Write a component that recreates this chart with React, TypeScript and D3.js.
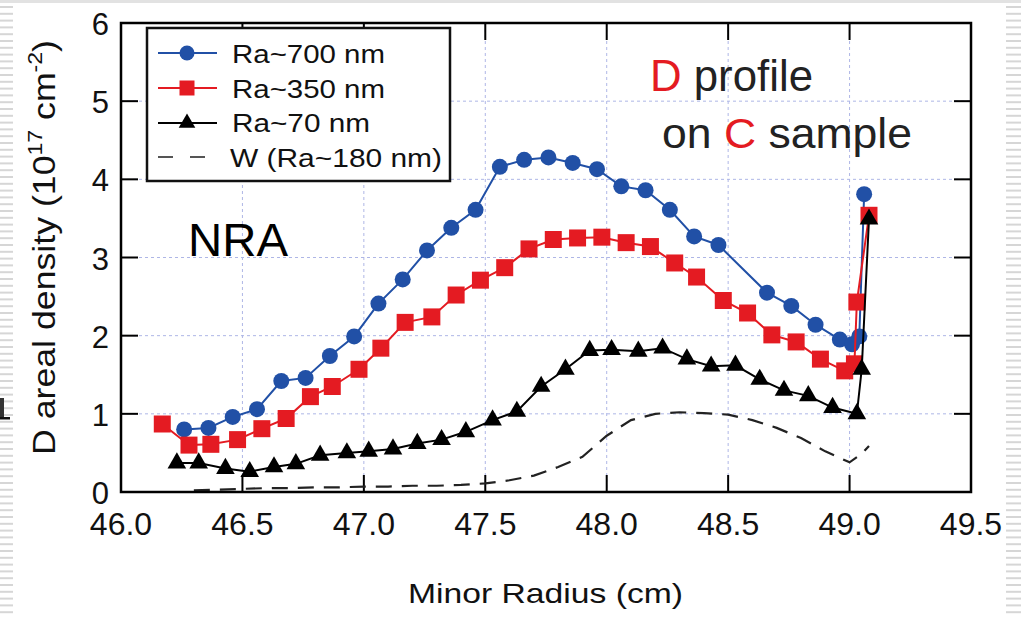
import React from "react";
import * as d3 from "d3";

// ---- Data ----
const xTicks = [46.0, 46.5, 47.0, 47.5, 48.0, 48.5, 49.0, 49.5];
const yTicks = [0, 1, 2, 3, 4, 5, 6];

const ra700X = [46.26, 46.36, 46.46, 46.56, 46.66, 46.76, 46.86, 46.96, 47.06, 47.16, 47.26, 47.36, 47.46, 47.56, 47.66, 47.76, 47.86, 47.96, 48.06, 48.16, 48.26, 48.36, 48.46, 48.66, 48.76, 48.86, 48.96, 49.01, 49.04, 49.06];
const ra700Y = [0.80, 0.82, 0.96, 1.06, 1.42, 1.46, 1.74, 1.99, 2.41, 2.72, 3.09, 3.38, 3.61, 4.16, 4.25, 4.28, 4.21, 4.13, 3.91, 3.86, 3.61, 3.27, 3.16, 2.55, 2.38, 2.14, 1.95, 1.89, 1.99, 3.81];

const ra350X = [46.17, 46.28, 46.37, 46.48, 46.58, 46.68, 46.78, 46.87, 46.98, 47.07, 47.17, 47.28, 47.38, 47.48, 47.58, 47.68, 47.78, 47.88, 47.98, 48.08, 48.18, 48.28, 48.37, 48.48, 48.58, 48.68, 48.78, 48.88, 48.98, 49.02, 49.03, 49.08];
const ra350Y = [0.87, 0.60, 0.61, 0.67, 0.81, 0.94, 1.22, 1.35, 1.57, 1.84, 2.17, 2.24, 2.52, 2.71, 2.87, 3.11, 3.23, 3.25, 3.26, 3.19, 3.14, 2.93, 2.75, 2.45, 2.29, 2.01, 1.92, 1.70, 1.55, 1.64, 2.43, 3.54];

const ra70X = [46.23, 46.32, 46.43, 46.53, 46.63, 46.72, 46.82, 46.93, 47.02, 47.12, 47.22, 47.32, 47.42, 47.53, 47.63, 47.73, 47.83, 47.93, 48.02, 48.13, 48.23, 48.33, 48.43, 48.53, 48.63, 48.73, 48.83, 48.93, 49.03, 49.05, 49.08];
const ra70Y = [0.37, 0.37, 0.30, 0.26, 0.32, 0.36, 0.47, 0.50, 0.52, 0.55, 0.62, 0.67, 0.77, 0.92, 1.03, 1.35, 1.57, 1.81, 1.82, 1.80, 1.84, 1.70, 1.61, 1.62, 1.44, 1.30, 1.23, 1.08, 1.00, 1.57, 3.49];

const wX = [46.3, 46.4, 46.5, 46.6, 46.7, 46.8, 46.9, 47.0, 47.1, 47.2, 47.3, 47.4, 47.5, 47.6, 47.7, 47.8, 47.9, 48.0, 48.1, 48.2, 48.3, 48.4, 48.5, 48.6, 48.7, 48.8, 48.9, 49.0, 49.05, 49.08];
const wY = [0.02, 0.03, 0.04, 0.05, 0.05, 0.06, 0.06, 0.07, 0.07, 0.08, 0.08, 0.09, 0.11, 0.15, 0.21, 0.32, 0.45, 0.72, 0.92, 1.00, 1.02, 1.01, 0.99, 0.92, 0.82, 0.69, 0.52, 0.38, 0.49, 0.59];

const legendLabels = ["Ra~700 nm", "Ra~350 nm", "Ra~70 nm", "W (Ra~180 nm)"];

const BLUE = "#2150a6";
const RED = "#e41b22";
const BLACK = "#000000";

const W = 1021;
const H = 617;
const L = 121, R = 971, T = 23, B = 492;

export default function App() {
  const x = d3.scaleLinear().domain([46, 49.5]).range([L, R]);
  const y = d3.scaleLinear().domain([0, 6]).range([B, T]);

  const zip = (xs: number[], ys: number[]) => xs.map((v, i) => [v, ys[i]] as [number, number]);
  const line = d3.line<[number, number]>().x((d) => x(d[0])).y((d) => y(d[1]));

  const blue = zip(ra700X, ra700Y);
  const red = zip(ra350X, ra350Y);
  const black = zip(ra70X, ra70Y);
  const wd = zip(wX, wY);

  const circle = d3.symbol().type(d3.symbolCircle).size(Math.PI * 8 * 8)()!;
  const square = d3.symbol().type(d3.symbolSquare).size(17 * 17)()!;
  const tri = d3.symbol().type(d3.symbolTriangle).size(150)()!;
  const circleL = d3.symbol().type(d3.symbolCircle).size(Math.PI * 7.5 * 7.5)()!;
  const squareL = d3.symbol().type(d3.symbolSquare).size(15 * 15)()!;
  const triL = d3.symbol().type(d3.symbolTriangle).size(120)()!;

  const stripes: number[] = [];
  for (let s = 6; s < H; s += 6.8) stripes.push(s);

  const tickLen = 17;
  const font = "'Liberation Sans', Arial, Helvetica, sans-serif";

  const legendRows = [53, 88, 123, 157];
  const legendBase = [63, 97.5, 132, 166.5];
  const legendLens = [153, 153, 138, 212];

  return (
    <div style={{ position: "absolute", left: 0, top: 0 }}>
      <svg width={W} height={H} style={{ display: "block", background: "#fff" }} fontFamily={font}>
        {/* slide remnants */}
        <rect x={0} y={0} width={W} height={3} fill="#e2e2e2" />
        {stripes.map((s, i) => (
          <g key={"st" + i}>
            <rect x={0} y={s} width={13} height={2} fill="#d6d6d6" />
            <rect x={1006} y={s} width={15} height={2} fill="#d6d6d6" />
          </g>
        ))}
        <rect x={0} y={417} width={10} height={2.5} fill="#111" />
        <rect x={0} y={398} width={4} height={19} fill="#333" />

        {/* grid */}
        {xTicks.filter((t) => t > 46 && t < 49.5).map((t) => (
          <line key={"gx" + t} x1={x(t)} x2={x(t)} y1={T} y2={B} stroke="#aeb6e6" strokeWidth={1} strokeDasharray="3,3" />
        ))}
        {yTicks.filter((t) => t > 0 && t < 6).map((t) => (
          <line key={"gy" + t} x1={L} x2={R} y1={y(t)} y2={y(t)} stroke="#aeb6e6" strokeWidth={1} strokeDasharray="3,3" />
        ))}

        {/* ticks (inward) */}
        {xTicks.filter((t) => t > 46 && t < 49.5).map((t) => (
          <g key={"tx" + t}>
            <line x1={x(t)} x2={x(t)} y1={B} y2={B - tickLen} stroke="#000" strokeWidth={2} />
            <line x1={x(t)} x2={x(t)} y1={T} y2={T + tickLen} stroke="#000" strokeWidth={2} />
          </g>
        ))}
        {yTicks.filter((t) => t > 0 && t < 6).map((t) => (
          <g key={"ty" + t}>
            <line x1={L} x2={L + tickLen} y1={y(t)} y2={y(t)} stroke="#000" strokeWidth={2} />
            <line x1={R} x2={R - tickLen} y1={y(t)} y2={y(t)} stroke="#000" strokeWidth={2} />
          </g>
        ))}

        {/* tick labels */}
        {xTicks.map((t) => (
          <text key={"lx" + t} x={x(t)} y={535} textAnchor="middle" fontSize={32} fill="#111">
            {t.toFixed(1)}
          </text>
        ))}
        {yTicks.map((t) => (
          <text key={"ly" + t} x={109} y={y(t) + 12} textAnchor="end" fontSize={31} fill="#111">
            {t}
          </text>
        ))}

        {/* W dashed */}
        <path d={line(wd)!} fill="none" stroke="#222" strokeWidth={2.2} strokeDasharray="16,10" />

        {/* Ra~700 */}
        <path d={line(blue)!} fill="none" stroke={BLUE} strokeWidth={2} />
        {blue.map((d, i) => (
          <path key={"b" + i} d={circle} transform={`translate(${x(d[0])},${y(d[1])})`} fill={BLUE} />
        ))}

        {/* Ra~350 */}
        <path d={line(red)!} fill="none" stroke={RED} strokeWidth={2} />
        {red.map((d, i) => (
          <path key={"r" + i} d={square} transform={`translate(${x(d[0])},${y(d[1])})`} fill={RED} />
        ))}

        {/* Ra~70 */}
        <path d={line(black)!} fill="none" stroke={BLACK} strokeWidth={2} />
        {black.map((d, i) => (
          <path key={"k" + i} d={tri} transform={`translate(${x(d[0])},${y(d[1])})`} fill={BLACK} />
        ))}

        {/* frame */}
        <rect x={L} y={T} width={R - L} height={B - T} fill="none" stroke="#000" strokeWidth={2.5} />

        {/* legend */}
        <rect x={147} y={28} width={303} height={153} fill="#fff" stroke="#111" strokeWidth={2.5} />
        <line x1={158} x2={217} y1={legendRows[0]} y2={legendRows[0]} stroke={BLUE} strokeWidth={2} />
        <path d={circleL} transform={`translate(187,${legendRows[0]})`} fill={BLUE} />
        <line x1={158} x2={217} y1={legendRows[1]} y2={legendRows[1]} stroke={RED} strokeWidth={2} />
        <path d={squareL} transform={`translate(187,${legendRows[1]})`} fill={RED} />
        <line x1={158} x2={217} y1={legendRows[2]} y2={legendRows[2]} stroke={BLACK} strokeWidth={2} />
        <path d={triL} transform={`translate(187,${legendRows[2]})`} fill={BLACK} />
        <line x1={158} x2={217} y1={legendRows[3]} y2={legendRows[3]} stroke="#555" strokeWidth={2.2} strokeDasharray="15,17" />
        {legendLabels.map((lab, i) => (
          <text key={"lg" + i} x={i === 3 ? 230 : 232} y={legendBase[i]} fontSize={25} fill="#111" textLength={legendLens[i]} lengthAdjust="spacingAndGlyphs">
            {lab}
          </text>
        ))}

        {/* annotations */}
        <text x={188} y={256} fontSize={47} fill="#000" textLength={100} lengthAdjust="spacingAndGlyphs">NRA</text>
        <text x={650} y={91} fontSize={45} fill="#222" textLength={163} lengthAdjust="spacingAndGlyphs">
          <tspan fill={RED}>D</tspan> profile
        </text>
        <text x={662} y={148} fontSize={43} fill="#222" textLength={250} lengthAdjust="spacingAndGlyphs">
          on <tspan fill={RED}>C</tspan> sample
        </text>

        {/* axis titles */}
        <text x={408} y={603} fontSize={28} fill="#111" textLength={275} lengthAdjust="spacingAndGlyphs">
          Minor Radius (cm)
        </text>
        <text transform="translate(55,455) rotate(-90)" x={0} y={0} fontSize={31} fill="#111" textLength={415} lengthAdjust="spacingAndGlyphs">
          D areal density (10<tspan fontSize={20} dy={-13}>17</tspan><tspan dy={13}> cm</tspan><tspan fontSize={20} dy={-13}>-2</tspan><tspan dy={13}>)</tspan>
        </text>
      </svg>
    </div>
  );
}
